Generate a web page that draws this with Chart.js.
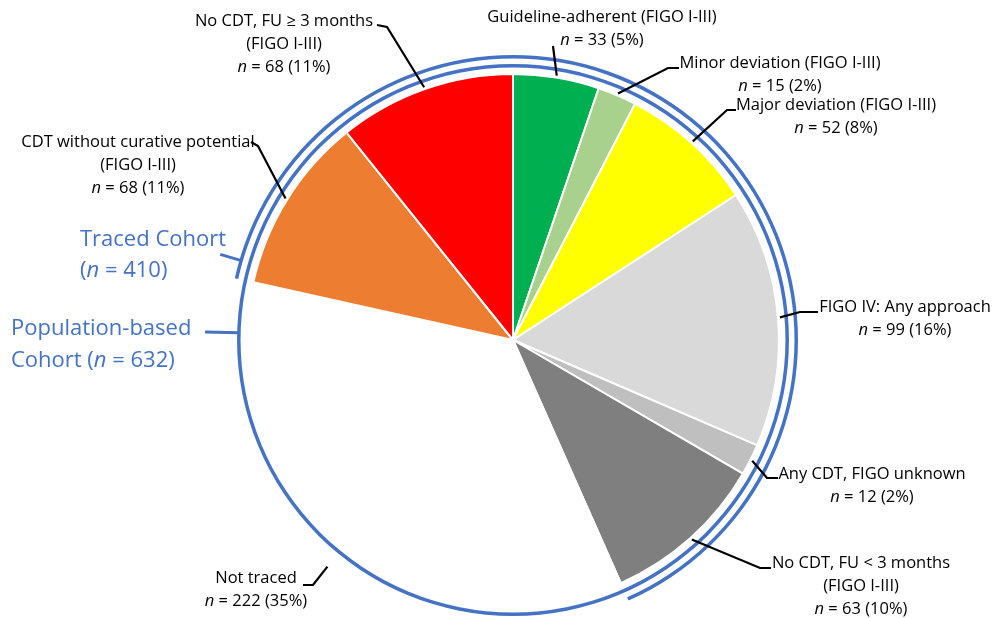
<!DOCTYPE html>
<html>
<head>
<meta charset="utf-8">
<script src="https://cdn.jsdelivr.net/npm/chart.js@4/dist/chart.umd.min.js"></script>
<style>
  html, body { margin: 0; padding: 0; background: #fff; overflow: hidden; }
  #wrap { position: absolute; left: 0; top: 0; width: 995px; height: 640px; }
</style>
</head>
<body>
<div id="wrap"><canvas id="cohortChart"></canvas></div>
<script>
// slices, clockwise from 12 o'clock
const categories = [
    ['Guideline-adherent (FIGO I-III)'],
    ['Minor deviation (FIGO I-III)'],
    ['Major deviation (FIGO I-III)'],
    ['FIGO IV: Any approach'],
    ['Any CDT, FIGO unknown'],
    ['No CDT, FU < 3 months', '(FIGO I-III)'],
    ['Not traced'],
    ['CDT without curative potential', '(FIGO I-III)'],
    ['No CDT, FU \u2265 3 months', '(FIGO I-III)']
];
const values = [33, 15, 52, 99, 12, 63, 222, 68, 68];
const sliceColors = ['#00b050', '#a9d18e', '#ffff00', '#d9d9d9', '#bfbfbf', '#7f7f7f', '#ffffff', '#ed7d31', '#ff0000'];
const notTracedIndex = 6;

const BLUE = '#4472c4';
const FONT = '"Open Sans", "Noto Sans", sans-serif';

const total = values.reduce((a, b) => a + b, 0);
const tracedTotal = total - values[notTracedIndex];
const sum = arr => arr.reduce((a, b) => a + b, 0);
const tracedRing = [sum(values.slice(0, notTracedIndex)), values[notTracedIndex], sum(values.slice(notTracedIndex + 1))];

// where each callout text sits and how its leader bends
const callouts = [
    { cx: 602, cy: 17, dr: 2, path: [[553, 46]] },
    { cx: 780, cy: 63, dr: 2, path: [[668, 68], [679, 68]] },
    { cx: 836, cy: 105, dr: 2, path: [[727, 110], [736, 110]] },
    { cx: 905, cy: 307, dr: 2, path: [[800, 312], [818, 312]] },
    { cx: 872, cy: 474, dr: 2, path: [[767, 478], [778, 478]] },
    { cx: 861, cy: 563, dr: 2, path: [[760, 568], [771, 568]] },
    { cx: 256, cy: 578, dr: 27, path: [[313, 585], [303, 585]] },
    { cx: 138, cy: 142, dr: 2, path: [[258, 146], [251, 142]] },
    { cx: 284, cy: 21, dr: 2, path: [[387, 27], [377, 25]] }
];

function drawRich(ctx, parts, x, y, align, size, color) {
    ctx.fillStyle = color;
    ctx.textBaseline = 'middle';
    ctx.textAlign = 'left';
    let w = 0;
    parts.forEach(p => {
        ctx.font = (p.i ? 'italic ' : '') + size + 'px ' + FONT;
        p.w = ctx.measureText(p.t).width;
        w += p.w;
    });
    let sx = align === 'center' ? x - w / 2 : x;
    parts.forEach(p => {
        ctx.font = (p.i ? 'italic ' : '') + size + 'px ' + FONT;
        ctx.fillText(p.t, sx, y);
        sx += p.w;
    });
}

const calloutPlugin = {
    id: 'callouts',
    afterDraw(chart) {
        const ctx = chart.ctx;
        const meta = chart.getDatasetMeta(4);
        ctx.save();
        meta.data.forEach((arc, i) => {
            const c = callouts[i];
            const p = arc.getProps(['x', 'y', 'startAngle', 'endAngle', 'outerRadius'], true);
            const mid = (p.startAngle + p.endAngle) / 2;
            const r = p.outerRadius + c.dr;
            ctx.beginPath();
            ctx.moveTo(p.x + Math.cos(mid) * r, p.y + Math.sin(mid) * r);
            c.path.forEach(pt => ctx.lineTo(pt[0], pt[1]));
            ctx.strokeStyle = '#000';
            ctx.lineWidth = 2.2;
            ctx.stroke();

            const lines = categories[i];
            lines.forEach((t, k) => drawRich(ctx, [{ t }], c.cx, c.cy + k * 23, 'center', 16.5, '#000'));
            const pct = Math.round(values[i] / total * 100);
            drawRich(ctx, [{ t: 'n', i: true }, { t: ' = ' + values[i] + ' (' + pct + '%)' }],
                c.cx, c.cy + lines.length * 23, 'center', 16.5, '#000');
        });

        // cohort labels and their ticks
        const cx = meta.data[0].x, cy = meta.data[0].y;
        const polar = (deg, r) => {
            const a = (deg - 90) * Math.PI / 180;
            return [cx + Math.cos(a) * r, cy + Math.sin(a) * r];
        };
        ctx.strokeStyle = BLUE;
        ctx.lineWidth = 3;
        let a = polar(286.3, 283), b = polar(286.3, 305);
        ctx.beginPath(); ctx.moveTo(a[0], a[1]); ctx.lineTo(b[0], b[1]); ctx.stroke();
        a = polar(271.5, 274); b = polar(271.5, 308);
        ctx.beginPath(); ctx.moveTo(a[0], a[1]); ctx.lineTo(b[0], b[1]); ctx.stroke();

        drawRich(ctx, [{ t: 'Traced Cohort' }], 80, 240, 'left', 22, BLUE);
        drawRich(ctx, [{ t: '(' }, { t: 'n', i: true }, { t: ' = ' + tracedTotal + ')' }], 80, 271, 'left', 22, BLUE);
        drawRich(ctx, [{ t: 'Population-based' }], 11, 329, 'left', 22, BLUE);
        drawRich(ctx, [{ t: 'Cohort (' }, { t: 'n', i: true }, { t: ' = ' + total + ')' }], 11, 361, 'left', 22, BLUE);
        ctx.restore();
    }
};

const clear = 'rgba(0,0,0,0)';
new Chart(document.getElementById('cohortChart'), {
    type: 'pie',
    data: {
        labels: categories,
        datasets: [
            { data: tracedRing, backgroundColor: [BLUE, clear, BLUE], borderWidth: 0, weight: 3.5 },
            { data: [total], backgroundColor: [clear], borderWidth: 0, weight: 5.5 },
            { data: [total], backgroundColor: [BLUE], borderWidth: 0, weight: 3.5 },
            { data: [total], backgroundColor: [clear], borderWidth: 0, weight: 6.5 },
            { data: values, backgroundColor: sliceColors, borderColor: '#ffffff', borderWidth: 2, weight: 265 }
        ]
    },
    options: {
        responsive: true,
        maintainAspectRatio: false,
        animation: false,
        events: [],
        layout: { padding: { left: 228, right: 197, top: 55, bottom: 15 } },
        plugins: {
            legend: { display: false },
            tooltip: { enabled: false }
        }
    },
    plugins: [calloutPlugin]
});
</script>
</body>
</html>
